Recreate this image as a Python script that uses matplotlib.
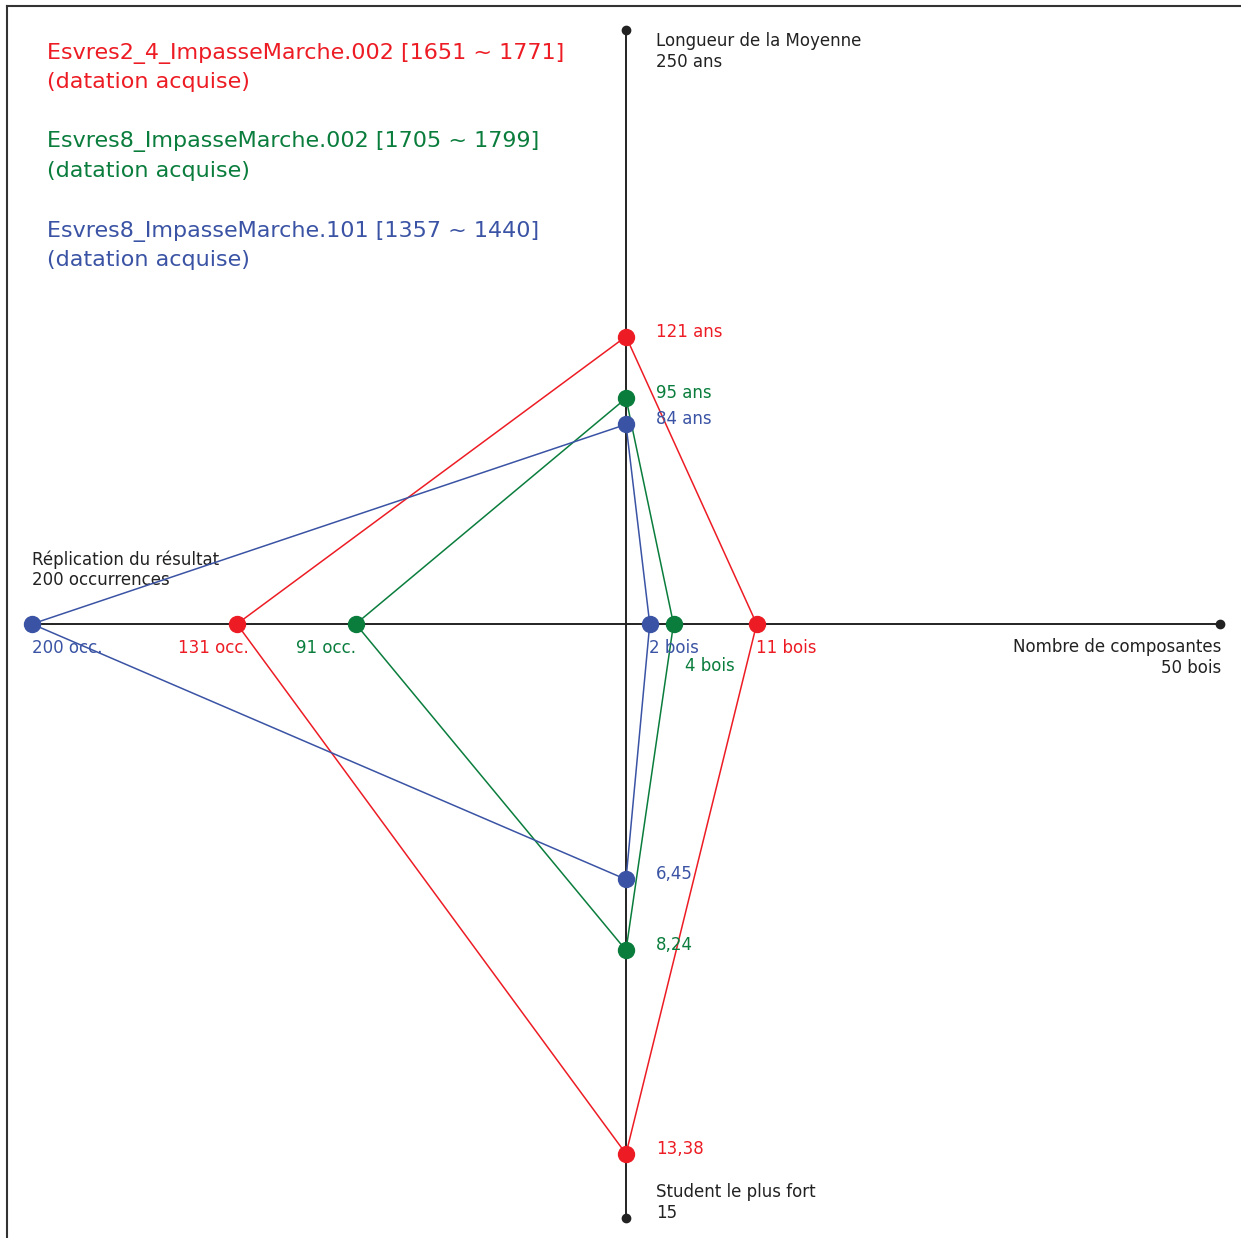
import matplotlib.pyplot as plt

# axes of the diagram: up, right, down, left
axis_names = ['Longueur de la Moyenne', 'Nombre de composantes',
              'Student le plus fort', 'Réplication du résultat']
axis_max = [250, 50, 15, 200]
axis_max_labels = ['250 ans', '50 bois', '15', '200 occurrences']

series_names = ['Esvres2_4_ImpasseMarche.002 [1651 ~ 1771]',
                'Esvres8_ImpasseMarche.002 [1705 ~ 1799]',
                'Esvres8_ImpasseMarche.101 [1357 ~ 1440]']
series_status = ['(datation acquise)', '(datation acquise)', '(datation acquise)']
longueur = [121, 95, 84]
composantes = [11, 4, 2]
student = [13.38, 8.24, 6.45]
replication = [131, 91, 200]

colors = ['#ed1c24', '#0a7d3d', '#3a53a4']
dark = '#222222'

W, H, DPI = 1241, 1238, 100
fig = plt.figure(figsize=(W / DPI, H / DPI), dpi=DPI)
# axes box: left spine at x=7px, top spine at y=6px
ax = fig.add_axes([7 / W, 0, 1 - 7 / W, 1 - 6 / H])
scale = 594  # px per unit
cx, cy = 626, 624
ax.set_xlim(-(cx - 7) / scale, (W - cx) / scale)
ax.set_ylim(-(H - cy) / scale, (cy - 6) / scale)
for s in ['right', 'bottom']:
    ax.spines[s].set_visible(False)
for s in ['left', 'top']:
    ax.spines[s].set_color('#333333')
    ax.spines[s].set_linewidth(1.5)
ax.set_xticks([])
ax.set_yticks([])

font = 'DejaVu Sans'
fs = 12
fs_leg = 16

# main axes
ax.plot([-1, 1], [0, 0], color=dark, lw=1.4, zorder=1)
ax.plot([0, 0], [-1, 1], color=dark, lw=1.4, zorder=1)
ax.plot([0, 1, 0], [1, 0, -1], 'o', color=dark, ms=6, ls='none', zorder=2)

# axis titles
ax.annotate(f'{axis_names[0]}\n{axis_max_labels[0]}', (0, 1), xytext=(30, -2),
            textcoords='offset pixels', ha='left', va='top', fontsize=fs,
            color=dark, family=font, linespacing=1.2)
ax.annotate(f'{axis_names[1]}\n{axis_max_labels[1]}', (1, 0), xytext=(1, -14),
            textcoords='offset pixels', ha='right', va='top', fontsize=fs,
            color=dark, family=font, linespacing=1.2, multialignment='right')
ax.annotate(f'{axis_names[2]}\n{axis_max_labels[2]}', (0, -1), xytext=(30, 35),
            textcoords='offset pixels', ha='left', va='top', fontsize=fs,
            color=dark, family=font, linespacing=1.2)
ax.annotate(f'{axis_names[3]}\n{axis_max_labels[3]}', (-1, 0), xytext=(0, 74),
            textcoords='offset pixels', ha='left', va='top', fontsize=fs,
            color=dark, family=font, linespacing=1.2)

# label nudges (pixels) for crowded value labels
right_nudge = {1: (12, -18)}
left_nudge = {0: (12, 0)}

for i in range(len(series_names)):
    c = colors[i]
    up = longueur[i] / axis_max[0]
    rt = composantes[i] / axis_max[1]
    dn = -student[i] / axis_max[2]
    lf = -replication[i] / axis_max[3]
    xs = [0, rt, 0, lf, 0]
    ys = [up, 0, dn, 0, up]
    ax.plot(xs, ys, color=c, lw=1.1, zorder=3)
    ax.plot(xs[:4], ys[:4], 'o', color=c, ms=11.5, ls='none', zorder=5)

    ax.annotate(f'{longueur[i]} ans', (0, up), xytext=(30, 5),
                textcoords='offset pixels', ha='left', va='center',
                fontsize=fs, color=c, family=font)
    ax.annotate(f'{student[i]:.2f}'.replace('.', ','), (0, dn), xytext=(30, 5),
                textcoords='offset pixels', ha='left', va='center',
                fontsize=fs, color=c, family=font)
    dx, dy = right_nudge.get(i, (0, 0))
    ax.annotate(f'{composantes[i]} bois', (rt, 0), xytext=(dx - 1, -24 + dy),
                textcoords='offset pixels', ha='left', va='center',
                fontsize=fs, color=c, family=font)
    dx, dy = left_nudge.get(i, (0, 0))
    if replication[i] == axis_max[3]:
        ax.annotate(f'{replication[i]} occ.', (lf, 0), xytext=(0, -24),
                    textcoords='offset pixels', ha='left', va='center',
                    fontsize=fs, color=c, family=font)
    else:
        ax.annotate(f'{replication[i]} occ.', (lf, 0), xytext=(dx, -24),
                    textcoords='offset pixels', ha='right', va='center',
                    fontsize=fs, color=c, family=font)

    # legend block, top left
    fig.text(47 / W, 1 - (53 + 89 * i) / H, series_names[i], ha='left',
             va='center', fontsize=fs_leg, color=c, family=font)
    fig.text(47 / W, 1 - (82 + 89 * i) / H, series_status[i], ha='left',
             va='center', fontsize=fs_leg, color=c, family=font)

fig.savefig('out.png', dpi=DPI, facecolor='white')
